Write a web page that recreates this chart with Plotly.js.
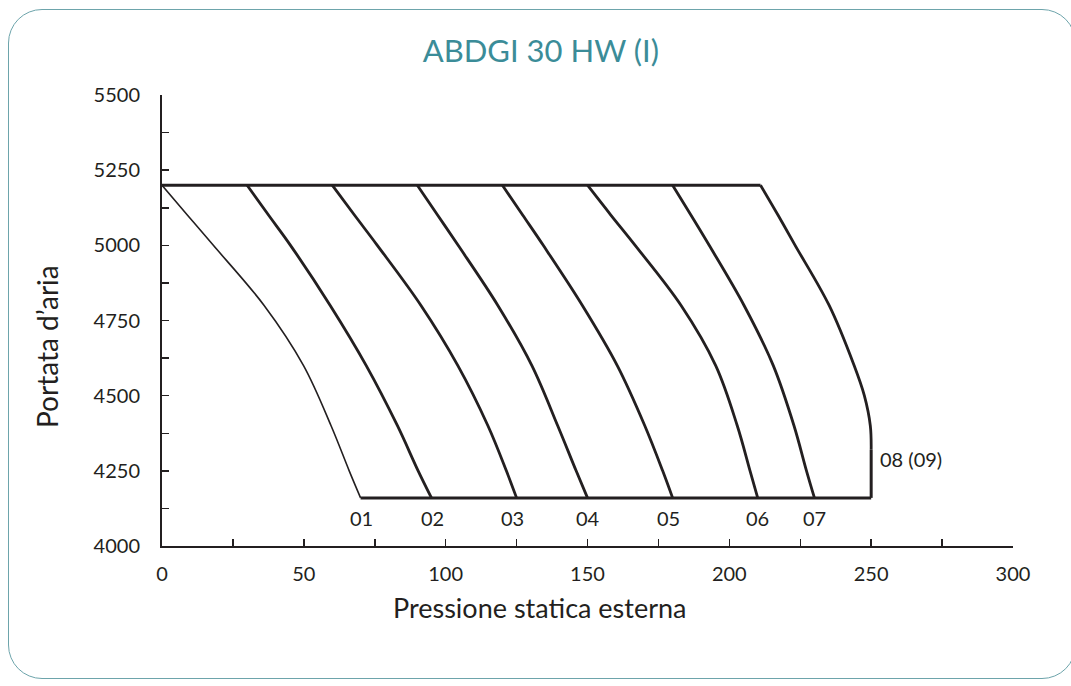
<!DOCTYPE html>
<html>
<head>
<meta charset="utf-8">
<script src="https://cdn.plot.ly/plotly-3.0.1.min.js"></script>
<style>
  html, body { margin: 0; padding: 0; background: #ffffff; }
  #chart { position: absolute; left: 0; top: 0; width: 1071px; height: 686px; }
  #frame { position: absolute; left: 8px; top: 9px; width: 1068px; height: 670px;
           border: 1.5px solid #6da4ab; border-radius: 34px; pointer-events: none; box-sizing: border-box; }
</style>
</head>
<body>
<div id="chart"></div>
<div id="frame"></div>
<script>
// Shared flow levels (Portata d'aria) for curves 01..07
const flowLevels = [5200, 5100, 5000, 4800, 4600, 4400, 4250, 4160];

// Pressure (Pressione statica esterna) at each flow level, per speed curve
const curve01 = [0, 9.0, 18.1, 36.0, 49.9, 59.6, 66.0, 70];
const curve02 = [30, 37.6, 45.3, 59.3, 72.0, 83.0, 90.3, 95];
const curve03 = [60, 67.9, 75.9, 91.3, 104.3, 114.9, 121.4, 125];
const curve04 = [90, 97.2, 104.4, 118.4, 130.4, 139.5, 146.0, 150];
const curve05 = [120, 127.2, 134.4, 148.2, 160.5, 170.2, 176.5, 180];
const curve06 = [150, 158.3, 166.8, 183.0, 195.2, 202.8, 207.3, 210];
const curve07 = [180, 186.5, 192.9, 205.2, 215.5, 222.8, 227.2, 230];

// Curve 08 (09) ends on the vertical limit
const flow08 = [5200, 5100, 5000, 4800, 4600, 4500, 4400, 4320];
const curve08 = [211, 217.2, 223.2, 235.2, 244.0, 247.6, 249.7, 250];

// Envelope lines
const topX = [0, 211], topY = [5200, 5200];
const bottomX = [70, 250], bottomY = [4160, 4160];
const limitX = [250, 250], limitY = [4160, 4320];

// Curve labels
const curveLabels = ["01", "02", "03", "04", "05", "06", "07"];
const labelX = [70.3, 95.3, 123.5, 150, 178.5, 210, 230];
const labelY = 4092;
const label08 = "08 (09)";

const dark = "#231f20";
const curves = [curve01, curve02, curve03, curve04, curve05, curve06, curve07];
const traces = [];
curves.forEach((c, i) => {
  traces.push({
    x: c, y: flowLevels, mode: "lines", type: "scatter",
    line: { color: dark, width: i === 0 ? 1.6 : 2.8, shape: "spline", smoothing: 1 },
    hoverinfo: "skip", showlegend: false
  });
});
traces.push({ x: curve08, y: flow08, mode: "lines", type: "scatter",
  line: { color: dark, width: 2.8, shape: "spline", smoothing: 1 }, hoverinfo: "skip", showlegend: false });
[[topX, topY], [bottomX, bottomY], [limitX, limitY]].forEach(([xs, ys]) => {
  traces.push({ x: xs, y: ys, mode: "lines", type: "scatter",
    line: { color: dark, width: 3 }, hoverinfo: "skip", showlegend: false });
});

const fontFam = "Lato, 'Open Sans', sans-serif";
const annotations = curveLabels.map((t, i) => ({
  x: labelX[i], y: labelY, xref: "x", yref: "y", text: t, showarrow: false,
  xanchor: "center", yanchor: "middle", font: { family: fontFam, size: 20, color: dark }
}));
annotations.push({ x: 252.5, y: 4288, xref: "x", yref: "y", text: label08, showarrow: false,
  xanchor: "left", yanchor: "middle", font: { family: fontFam, size: 20, color: dark } });
// axis titles, placed as in the reference
annotations.push({ x: (540 - 162) / 851, y: (546 - 607) / 451, xref: "paper", yref: "paper",
  text: "Pressione statica esterna", showarrow: false, xanchor: "center", yanchor: "middle",
  font: { family: fontFam, size: 27, color: dark } });
annotations.push({ x: (47 - 162) / 851, y: (546 - 347) / 451, xref: "paper", yref: "paper",
  text: "Portata d\u2019aria", textangle: -90, showarrow: false, xanchor: "center", yanchor: "middle",
  font: { family: fontFam, size: 28, color: dark } });

const layout = {
  width: 1071, height: 686,
  margin: { l: 162, r: 58, t: 95, b: 140 },
  paper_bgcolor: "rgba(0,0,0,0)", plot_bgcolor: "rgba(0,0,0,0)",
  font: { family: fontFam, color: dark },
  title: { text: "ABDGI 30 HW (I)", xref: "container", x: 0.505, y: 1 - 51 / 686, yanchor: "middle",
           font: { family: fontFam, size: 31, color: "#3b8c98" } },
  xaxis: {
    range: [0, 300], tickvals: [0, 50, 100, 150, 200, 250, 300],
    ticks: "inside", ticklen: 7, tickwidth: 1.5, tickcolor: dark,
    minor: { tickvals: [25, 75, 125, 175, 225, 275], ticks: "inside", ticklen: 7, tickwidth: 1.5, tickcolor: dark },
    showline: true, linecolor: dark, linewidth: 2, showgrid: false, zeroline: false,
    tickfont: { family: fontFam, size: 20, color: dark }, ticklabelstandoff: 9
  },
  yaxis: {
    range: [4000, 5500], tickvals: [4000, 4250, 4500, 4750, 5000, 5250, 5500],
    ticks: "inside", ticklen: 7, tickwidth: 1.5, tickcolor: dark,
    minor: { tickvals: [4125, 4375, 4625, 4875, 5125, 5375], ticks: "inside", ticklen: 7, tickwidth: 1.5, tickcolor: dark },
    showline: true, linecolor: dark, linewidth: 2, showgrid: false, zeroline: false,
    tickfont: { family: fontFam, size: 20, color: dark }, ticklabelstandoff: 16
  },
  annotations: annotations
};

Plotly.newPlot("chart", traces, layout, { displayModeBar: false, staticPlot: true });
</script>
</body>
</html>
